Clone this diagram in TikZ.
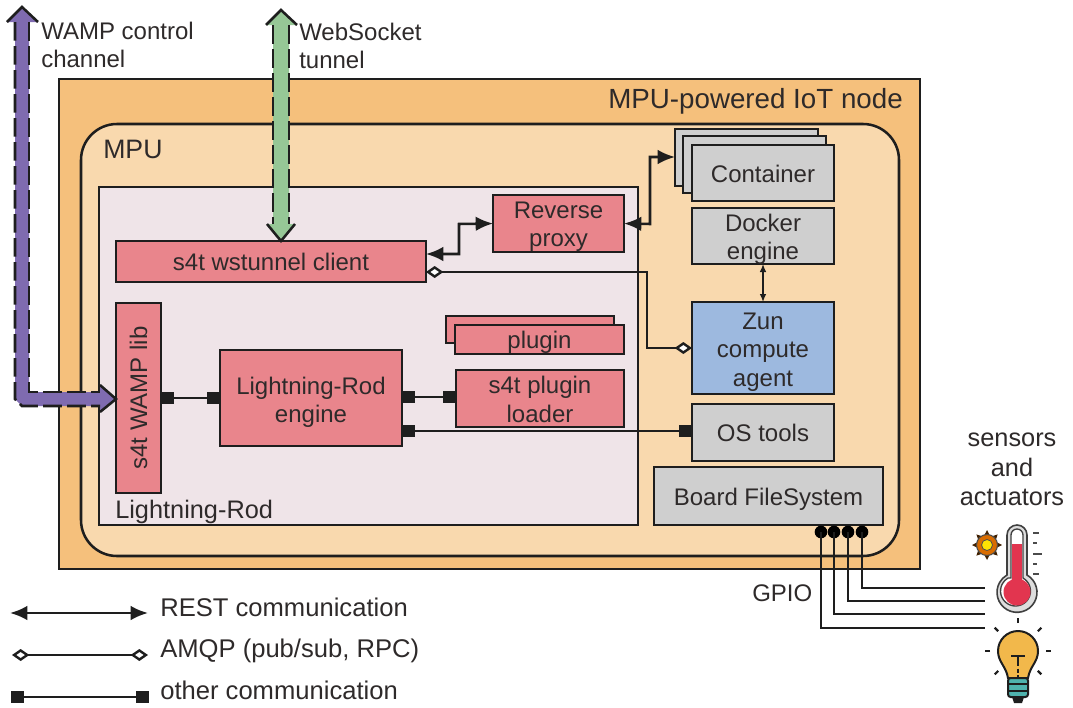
\documentclass[tikz,border=0pt]{standalone}
\usepackage{fontspec}
\setmainfont{Liberation Sans}
\usetikzlibrary{arrows.meta,calc}
\definecolor{cOuter}{HTML}{F5C07C}
\definecolor{cMpu}{HTML}{F9D9AE}
\definecolor{cLr}{HTML}{EFE4E8}
\definecolor{cRed}{HTML}{E9858C}
\definecolor{cGrey}{HTML}{CFCFCF}
\definecolor{cBlue}{HTML}{9DB9DF}
\definecolor{cPurple}{HTML}{7F6BB0}
\definecolor{cGreen}{HTML}{96C796}
\definecolor{cInk}{HTML}{1E1E1E}
\definecolor{cTxt}{HTML}{2E2A2A}
\definecolor{cThermo}{HTML}{E2354F}
\definecolor{cBulb}{HTML}{F2B84B}
\definecolor{cTeal}{HTML}{4FB3AE}
\newcommand{\fs}[1]{\fontsize{#1}{21.2}\selectfont}
\newcommand{\pbox}[8][3]{\node[#3,minimum width={(#6-#4)*0.75pt},minimum height={(#7-#5)*0.75pt}] (#2) at ({(#4+#6)/2},{(#5+#7)/2}) {};
  \node[boxtext] (#2t) at ({(#4+#6)/2},{(#5+#7)/2+#1}) {#8};}
\tikzset{
  x=0.75pt,y=-0.75pt,
  frame/.style={draw=cInk,line width=1.9pt,inner sep=0pt,outer sep=0pt},
  boxtext/.style={inner sep=0pt,text=cTxt,align=center,font=\fs{18}},
  redbox/.style={frame,fill=cRed},
  greybox/.style={frame,fill=cGrey},
  bluebox/.style={frame,fill=cBlue},
  label/.style={inner sep=0pt,text=cTxt,font=\fs{18},align=left},
  link/.style={draw=cInk,line width=1.9pt},
  rest/.style={link,{Latex[length=13pt,width=11pt]}-{Latex[length=13pt,width=11pt]}},
  amqp/.style={link,{Diamond[open,length=13pt,width=9pt,fill=white,line width=1.8pt]}-{Diamond[open,length=13pt,width=9pt,fill=white,line width=1.8pt]}},
  other/.style={link,{Square[length=9.5pt,width=9.5pt]}-{Square[length=9.5pt,width=9.5pt]}},
  pipe/.style={draw=cInk,line width=1.9pt,dash pattern=on 14pt off 4pt},
  gpiowire/.style={link},
  gpiodot/.style={circle,fill=black,inner sep=0pt,minimum size=9.5pt},
}
\begin{document}
\begin{tikzpicture}
\useasboundingbox (0,0) rectangle (1073,707);
% containers
\pbox[0]{node}{frame,fill=cOuter}{59}{79}{920}{569}{}
\draw[draw=cInk,line width=1.9pt,fill=cMpu,rounded corners=27pt] (81,124) rectangle (899,556);
\pbox[0]{lr}{frame,fill=cLr}{99}{187}{638}{525}{}
\node[label,font=\fs{20.8},anchor=base east] (nodeLabel) at (903,108) {MPU-powered IoT node};
\node[label,font=\fs{20},anchor=base west] (mpuLabel) at (103,158) {MPU};
\node[label,font=\fs{19},anchor=base west] (lrLabel) at (115,518) {Lightning-Rod};
% boxes
\pbox[0]{ws}{redbox}{116}{241}{426}{282}{s4t wstunnel client}
\pbox{rev}{redbox}{493}{195}{624}{252}{Reverse\\proxy}
\pbox[0]{c3}{greybox}{675}{129}{818}{186}{}
\pbox[0]{c2}{greybox}{683}{136}{826}{193}{}
\pbox[1]{c1}{greybox}{692}{145}{834}{201}{Container}
\pbox{docker}{greybox}{692}{208}{834}{264}{Docker\\engine}
\pbox[4]{zun}{bluebox}{692}{302}{834}{394}{Zun\\compute\\agent}
\pbox[0]{os}{greybox}{692}{404}{834}{461}{OS tools}
\pbox{fs}{greybox}{654}{467}{883}{525}{Board FileSystem}
\pbox[0]{pl2}{redbox}{446}{316}{614}{343}{}
\pbox{pl1}{redbox}{455}{325}{624}{354}{plugin}
\pbox[1]{loader}{redbox}{456}{370}{624}{427}{s4t plugin\\loader}
\pbox[4]{engine}{redbox}{220}{350}{402}{446}{Lightning-Rod\\engine}
\pbox[0]{lib}{redbox}{116}{303}{161}{493}{\rotatebox{90}{s4t WAMP lib}}
% pipes
\coordinate (wampTop) at (22,7);
\coordinate (wsTop) at (281,10);
\fill[cPurple] (wampTop) -- (38,22) -- (29,22) -- (29,392) -- (100,392) -- (100,385) -- (lib.west |- 0,399) -- (100,412) -- (100,406) -- (22,406) -- (15,399) -- (15,22) -- (7,22) -- cycle;
\draw[pipe] (29,22) -- (29,392) -- (100,392);
\draw[pipe] (15,22) -- (15,399) -- (22,406) -- (100,406);
\draw[link] (7,22) -- (wampTop) -- (38,22);
\draw[link] (100,385) -- (lib.west |- 0,399) -- (100,412);
\fill[cGreen] (wsTop) -- (297,25) -- (289,25) -- (289,224) -- (294,224) -- (ws.north -| 281,0) -- (267,224) -- (273,224) -- (273,25) -- (266,25) -- cycle;
\draw[pipe] (273,25) -- (273,224);
\draw[pipe] (289,25) -- (289,224);
\draw[link] (266,25) -- (wsTop) -- (297,25);
\draw[link] (267,224) -- (ws.north -| 281,0) -- (295,224);
% connectors
\draw[rest] (rev.west) -- (459,224) -- (459,254) -- (ws.east |- 0,254);
\draw[rest] (rev.east) -- (650,224) -- (650,157) -- (c3.west |- 0,157);
\draw[link,line width=1pt,{Latex[length=6pt,width=5pt]}-{Latex[length=6pt,width=5pt]}] (docker.south) -- (zun.north);
\draw[amqp] (ws.east |- 0,272) -- (647,272) -- (647,348) -- (zun.west |- 0,348);
\draw[other] (lib.east |- 0,398) -- (engine.west |- 0,398);
\draw[other] (engine.east |- 0,397) -- (loader.west |- 0,397);
\draw[other] (engine.east |- 0,431) -- (os.west |- 0,431);
% pipe labels
\node[label,anchor=north west] (wampLabel) at (41,22) {WAMP control\\channel};
\node[label,anchor=north west] (wsLabel) at (299,23) {WebSocket\\tunnel};
% GPIO
\coordinate (therm1) at (985,588);
\coordinate (therm2) at (985,601);
\coordinate (bulb1) at (985,614);
\coordinate (bulb2) at (985,628);
\node[gpiodot] (d1) at (821,532) {};
\node[gpiodot] (d2) at (834,532) {};
\node[gpiodot] (d3) at (848,532) {};
\node[gpiodot] (d4) at (862,532) {};
\draw[gpiowire] (d1.center) |- (bulb2);
\draw[gpiowire] (d2.center) |- (bulb1);
\draw[gpiowire] (d3.center) |- (therm2);
\draw[gpiowire] (d4.center) |- (therm1);
\node[label,anchor=base west] (gpioLabel) at (752,601) {GPIO};
\node[label,anchor=north,align=center,font=\fontsize{19}{22.1}\selectfont] (saLabel) at (1012,433) {sensors\\and\\actuators};
% thermometer
\path[draw=cInk!85,line width=1.2pt,fill=cGrey!70!white] (1007,575) -- (1007,535) arc[start angle=180,end angle=360,radius=10] -- (1027,575) arc[start angle=-60,end angle=240,radius=20] -- cycle;
\path[draw=cInk!85,line width=1.0pt,fill=white] (1011,578) -- (1011,535) arc[start angle=180,end angle=360,radius=6] -- (1023,578) arc[start angle=-60,end angle=240,radius=15] -- cycle;
\fill[cThermo] (1012,544) rectangle (1022,582);
\fill[cThermo] (1017,592) circle[radius=13.5];
\foreach \ty/\tx in {533/1039,543/1037,554/1042,564/1037,574/1039}
  \draw[cInk!80,line width=1.2pt] (1033,\ty) -- (\tx,\ty);
% sun
\foreach \a in {0,45,...,315}
  \fill[black!75!orange] ($(987,545)+(\a-22:9)$) -- ($(987,545)+(\a:15)$) -- ($(987,545)+(\a+22:9)$) -- cycle;
\filldraw[draw=black!70,line width=0.8pt,fill=orange!85!black] (987,545) circle[radius=10.5];
\filldraw[draw=black!70,line width=0.6pt,fill=yellow!85!orange] (987,545) circle[radius=5.5];
% bulb
\filldraw[draw=cInk,line width=1.5pt,fill=cBulb] (1008,678) .. controls (1006,666) and (998,662) .. (998,651) arc[start angle=180,end angle=360,radius=20] .. controls (1038,662) and (1030,666) .. (1028,678) -- cycle;
\draw[cInk,line width=2pt] (1011,656) -- (1025,656) (1018,656) -- (1018,662);
\draw[cInk,line width=1pt,densely dashed] (1018,662) -- (1018,678);
\filldraw[draw=cInk,line width=1.5pt,fill=cTeal,rounded corners=2pt] (1008,678) rectangle (1028,697);
\draw[cInk,line width=1.5pt] (1008,684) -- (1028,684) (1008,691) -- (1028,691);
\fill[cInk] (1012,697) -- (1024,697) -- (1022,703) -- (1014,703) -- cycle;
\foreach \a in {-90,-45,-135,0,180,45,135}
  \draw[cInk,line width=1.6pt] ($(1018,651)+(\a:28)$) -- ($(1018,651)+(\a:33)$);
% legend
\coordinate (restL) at (10,613);
\coordinate (restR) at (148,613);
\coordinate (amqpL) at (12,655);
\coordinate (amqpR) at (148,655);
\coordinate (otherL) at (11,697);
\coordinate (otherR) at (149,697);
\draw[rest] (restL) -- (restR);
\draw[amqp] (amqpL) -- (amqpR);
\draw[other] (otherL) -- (otherR);
\node[label,anchor=base west,font=\fs{19.2}] (legRest) at (160,616) {REST communication};
\node[label,anchor=base west,font=\fs{19.2}] (legAmqp) at (160,657) {AMQP (pub/sub, RPC)};
\node[label,anchor=base west,font=\fs{19.2}] (legOther) at (160,699) {other communication};
\end{tikzpicture}
\end{document}
